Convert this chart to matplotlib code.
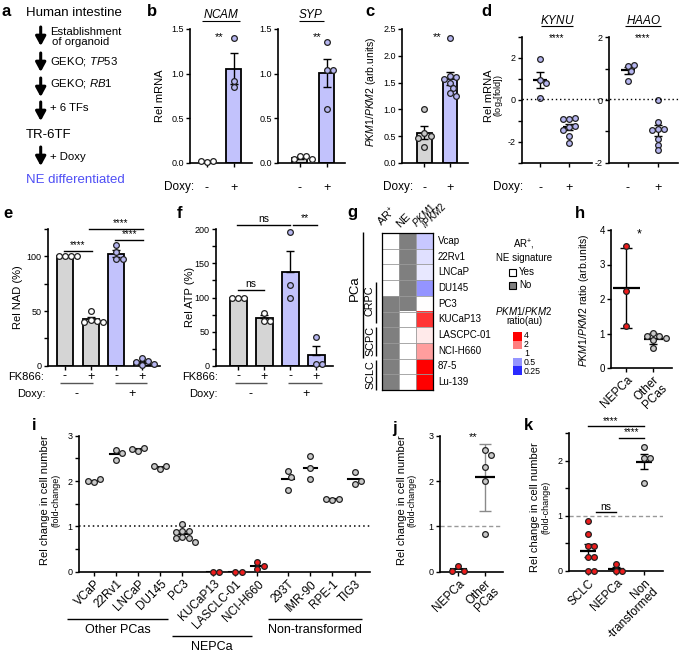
import matplotlib
matplotlib.use('Agg')
import matplotlib.pyplot as plt
import numpy as np
from matplotlib.colors import LinearSegmentedColormap
from matplotlib.patches import Rectangle

plt.rcParams['font.family'] = ['Liberation Sans', 'DejaVu Sans']
plt.rcParams['mathtext.fontset'] = 'custom'
plt.rcParams['mathtext.rm'] = 'Liberation Sans'
plt.rcParams['mathtext.it'] = 'Liberation Sans:italic'
plt.rcParams['mathtext.bf'] = 'Liberation Sans:bold'

# ---------------- data ----------------
doxy_labels = ['-', '+']
ncam_vals = [[0.01, 0.02, 0.02], [1.40, 0.92, 0.85]]
syp_vals = [[0.08, 0.08, 0.04, 0.04], [1.36, 1.04, 1.04, 0.60]]
pkm_vals = [[1.00, 0.56, 0.50, 0.47, 0.29],
            [2.33, 1.62, 1.60, 1.57, 1.50, 1.40, 1.30, 1.25]]
kynu_vals = [[1.94, 0.93, 0.80, 0.10],
             [-0.91, -0.86, -0.91, -1.31, -1.23, -1.44, -1.71, -2.08]]
haao_vals = [[1.10, 1.13, 0.92, 0.62],
             [0.00, -0.69, -0.92, -0.94, -0.96, -1.23, -1.42, -1.61]]
fk866_labels = ['-', '+', '-', '+']
nad_vals = [[100, 100, 100, 100], [50, 42, 41, 40, 40],
            [110, 104, 98, 98], [7, 4, 3, 2, 1]]
atp_vals = [[100, 100, 100], [78, 65, 65], [196, 118, 100], [42, 3, 3]]

g_lines = ['Vcap', '22Rv1', 'LNCaP', 'DU145', 'PC3', 'KUCaP13',
           'LASCPC-01', 'NCI-H660', '87-5', 'Lu-139']
g_ar_pos = [1, 1, 1, 1, 0, 0, 0, 0, 0, 0]
g_ne_sig = [0, 0, 0, 0, 0, 1, 1, 1, 1, 1]
g_pkm_ratio = [0.70, 0.82, 0.86, 0.50, 1.0, 3.0, 1.12, 1.70, 4.0, 4.0]
g_legend_ticks = [4, 2, 1, 0.5, 0.25]

h_labels = ['NEPCa', 'Other\nPCas']
h_vals = [[3.54, 2.22, 1.22], [1.01, 0.94, 0.92, 0.87, 0.80, 0.58]]

i_lines = ['VCaP', '22Rv1', 'LNCaP', 'DU145', 'PC3', 'KUCaP13', 'LASCLC-01',
           'NCI-H660', '293T', 'IMR-90', 'RPE-1', 'TIG3']
i_group = [0, 0, 0, 0, 0, 1, 1, 1, 2, 2, 2, 2]
i_vals = [[1.97, 2.04, 2.01], [2.68, 2.47, 2.62], [2.67, 2.72, 2.71],
          [2.27, 2.34, 2.34], [1.05, 0.90, 0.90, 0.88, 0.77, 0.75, 0.75, 0.65],
          [0.0, 0.0], [0.0, 0.0], [0.05, 0.22, 0.12],
          [2.22, 2.10, 1.80], [2.55, 2.28, 2.05], [1.58, 1.60, 1.60],
          [1.93, 2.20, 2.00]]

j_labels = ['NEPCa', 'Other\nPCas']
j_vals = [[0.12, 0.02, 0.02], [2.68, 2.58, 2.30, 2.00, 0.84]]

k_labels = ['SCLC', 'NEPCa', 'Non\n-transformed']
k_vals = [[0.90, 0.67, 0.45, 0.45, 0.25, 0.25, 0.0, 0.0],
          [0.0, 0.12, 0.0],
          [2.25, 2.04, 2.04, 1.60]]

# ---------------- style ----------------
GRAYBAR = '#d5d5d5'
LAVBAR = '#c2c2fc'
LAVPT = '#b6b6f0'
GRAYPT = '#c9c9c9'
REDPT = '#ee1c1c'
EDGE = '#222222'

W, H = 685, 655
fig = plt.figure(figsize=(W / 100, H / 100), dpi=100)


def add_ax(x0, y0, x1, y1):
    ax = fig.add_axes([x0 / W, 1 - y1 / H, (x1 - x0) / W, (y1 - y0) / H])
    for s in ('top', 'right'):
        ax.spines[s].set_visible(False)
    for s in ('left', 'bottom'):
        ax.spines[s].set_linewidth(1.2)
    ax.tick_params(direction='out', length=3, width=1, labelsize=6.5, pad=1.5)
    ax.patch.set_alpha(0)
    return ax


def swarm(ax, xc, vals, d=6.2):
    inv = ax.transData.inverted()
    placed = []
    xs = []
    xcp = ax.transData.transform((xc, 0))[0]
    for v in vals:
        yp = ax.transData.transform((xc, v))[1]
        cands = [0.0]
        for k in range(1, 40):
            cands += [k * d * 0.5, -k * d * 0.5]
        xp = xcp
        for c in cands:
            xp = xcp + c
            if all((xp - a) ** 2 + (yp - b) ** 2 >= (d * 0.95) ** 2 for a, b in placed):
                break
        placed.append((xp, yp))
        xs.append(inv.transform((xp, yp))[0])
    return xs


def points(ax, xc, vals, fc):
    xs = swarm(ax, xc, vals)
    ax.scatter(xs, vals, s=17, facecolor=fc, edgecolor=EDGE, linewidth=0.9,
               zorder=4, clip_on=False)


def sem(v):
    v = np.asarray(v, float)
    return np.std(v, ddof=1) / np.sqrt(len(v))


def bars(ax, groups, colors, ptcolors, width, up_only=False):
    for i, (vals, c, pc) in enumerate(zip(groups, colors, ptcolors)):
        m = np.mean(vals)
        e = sem(vals)
        ax.bar(i, m, width, color=c, edgecolor='black', linewidth=1.3, zorder=1)
        ax.errorbar(i, m, yerr=[[0 if up_only else e], [e]], color='black',
                    capsize=3, lw=1, capthick=1, zorder=2)
        points(ax, i, vals, pc)


def dots(ax, xc, vals, fc, meanw, sd=False, errcolor='black', capsize=3):
    m = np.mean(vals)
    e = np.std(vals, ddof=1) if sd else sem(vals)
    ax.errorbar(xc, m, yerr=e, color=errcolor, capsize=capsize, lw=1,
                capthick=1, zorder=2)
    ax.plot([xc - meanw / 2, xc + meanw / 2], [m, m], color='black', lw=1.6,
            zorder=3, solid_capstyle='butt')
    points(ax, xc, vals, fc)


# overlay in pixel coordinates
ov = fig.add_axes([0, 0, 1, 1], zorder=20)
ov.set_xlim(0, W)
ov.set_ylim(H, 0)
ov.axis('off')
ov.patch.set_visible(False)


def T(x, y, s, **kw):
    kw.setdefault('fontsize', 8)
    kw.setdefault('va', 'center')
    ov.text(x, y, s, **kw)


def L(xs, ys, **kw):
    kw.setdefault('color', 'black')
    kw.setdefault('lw', 1)
    ov.plot(xs, ys, solid_capstyle='butt', **kw)


def letter(x, y, s):
    T(x, y, s, fontsize=12, fontweight='bold', ha='left')


# ---------------- panel a ----------------
letter(2, 11, 'a')
T(26, 13, 'Human intestine', fontsize=9.5)
T(50, 32, 'Establishment', fontsize=8.2)
T(52, 42, 'of organoid', fontsize=8.2)
T(50, 62, r'GEKO; $\mathit{TP53}$', fontsize=8.2)
T(50, 84, r'GEKO; $\mathit{RB1}$', fontsize=8.2)
T(50, 108, '+ 6 TFs', fontsize=8.2)
T(26, 135, 'TR-6TF', fontsize=9.5)
T(50, 157, '+ Doxy', fontsize=8.2)
T(26, 180, 'NE differentiated', fontsize=9.5, color='#4f4ff5')
for y0, y1 in [(27, 46), (53, 72), (78, 97), (102, 121), (147, 166)]:
    ov.annotate('', xy=(40.7, y1), xytext=(40.7, y0),
                arrowprops=dict(arrowstyle='-|>,head_width=0.3,head_length=0.55',
                                lw=2.2, color='black', shrinkA=0, shrinkB=0,
                                mutation_scale=10))

# ---------------- panel b ----------------
letter(147, 11, 'b')
axb1 = add_ax(190, 29, 252, 163)
axb1.set_xlim(-0.63, 1.67)
axb1.set_ylim(0, 1.5)
bars(axb1, ncam_vals, [GRAYBAR, LAVBAR], ['white', LAVPT], 0.56)
axb2 = add_ax(278, 29, 345, 163)
axb2.set_xlim(-0.81, 1.67)
axb2.set_ylim(0, 1.5)
bars(axb2, syp_vals, [GRAYBAR, LAVBAR], ['white', LAVPT], 0.56)
for ax in (axb1, axb2):
    ax.set_yticks([0, 0.5, 1.0, 1.5], ['0.0', '0.5', '1.0', '1.5'])
    ax.set_xticks([0, 1], doxy_labels)
    ax.tick_params(axis='x', labelsize=9, pad=11)
T(160, 96, 'Rel mRNA', rotation=90, ha='center')
T(221, 15, r'$\mathit{NCAM}$', ha='center', fontsize=8.5)
L([202, 240], [21, 21], lw=0.8)
T(311, 15, r'$\mathit{SYP}$', ha='center', fontsize=8.5)
L([299, 324], [21, 21], lw=0.8)
T(219, 37, '**', ha='center', fontsize=8)
T(317, 37, '**', ha='center', fontsize=8)
T(194, 187, 'Doxy:', ha='right', fontsize=8.5)

# ---------------- panel c ----------------
letter(365, 11, 'c')
axc = add_ax(402, 29, 468, 163)
axc.set_xlim(-0.87, 1.7)
axc.set_ylim(0, 2.5)
bars(axc, pkm_vals, [GRAYBAR, LAVBAR], [GRAYPT, LAVPT], 0.58)
axc.set_yticks([0, 0.5, 1.0, 1.5, 2.0, 2.5], ['0.0', '0.5', '1.0', '1.5', '2.0', '2.5'])
axc.set_xticks([0, 1], doxy_labels)
axc.tick_params(axis='x', labelsize=9, pad=11)
T(371, 92, r'$\mathit{PKM1/PKM2}$ (arb.units)', rotation=90, ha='center', fontsize=7.5)
T(437, 37, '**', ha='center', fontsize=8)
T(413, 187, 'Doxy:', ha='right', fontsize=8.5)

# ---------------- panel d ----------------
letter(481, 11, 'd')
axd1 = add_ax(522, 36.7, 592, 162.7)
axd1.set_xlim(-0.62, 1.79)
axd1.set_ylim(-3, 3)
axd1.set_yticks([-3, -2, -1, 0, 1, 2, 3], ['', '-2', '', '0', '', '2', ''])
axd2 = add_ax(609, 37.3, 678, 162.7)
axd2.set_xlim(-0.63, 1.67)
axd2.set_ylim(-2, 2)
axd2.set_yticks([-2, -1, 0, 1, 2], ['-2', '', '0', '', '2'])
for ax, vals in ((axd1, kynu_vals), (axd2, haao_vals)):
    ax.set_xticks([0, 1], doxy_labels)
    ax.tick_params(axis='x', labelsize=9, pad=11)
    for i, v in enumerate(vals):
        dots(ax, i, v, LAVPT, 0.45)
L([522, 678], [99.3, 99.3], lw=1, ls=(0, (1, 2)))
T(557, 20, r'$\mathit{KYNU}$', ha='center', fontsize=8.5)
L([541, 573], [26, 26], lw=0.8)
T(643, 20, r'$\mathit{HAAO}$', ha='center', fontsize=8.5)
L([625, 661], [26, 26], lw=0.8)
T(557, 38, '****', ha='center', fontsize=7)
T(643, 38, '****', ha='center', fontsize=7)
T(489, 96, 'Rel mRNA', rotation=90, ha='center', fontsize=8)
T(499, 96, r'(log$_2$[fold])', rotation=90, ha='center', fontsize=6.5)
T(523, 187, 'Doxy:', ha='right', fontsize=8.5)

# ---------------- panel e ----------------
letter(3, 213, 'e')
axe = add_ax(48, 229, 160, 365.7)
axe.set_xlim(-0.66, 3.7)
axe.set_ylim(0, 125)
bars(axe, nad_vals, [GRAYBAR, GRAYBAR, LAVBAR, LAVBAR],
     ['white', 'white', LAVPT, LAVPT], 0.62)
axe.set_yticks([0, 25, 50, 75, 100, 125], ['0', '', '50', '', '100', ''])
axe.set_xticks([0, 1, 2, 3], fk866_labels)
axe.tick_params(axis='x', labelsize=9, pad=0.5)
for (a, b, y, s) in [(0, 1, 105, '****'), (2, 3, 115, '****'), (1, 3, 125, '****')]:
    axe.plot([a - 0.05, b + 0.05], [y, y], color='black', lw=1, clip_on=False)
    axe.text((a + b) / 2 + (0.15 if (a, b) == (1, 3) else 0), y + 1, s,
             ha='center', va='bottom', fontsize=7, clip_on=False)
T(18, 297, 'Rel NAD (%)', rotation=90, ha='center', fontsize=8)
T(44, 377, 'FK866:', ha='right', fontsize=8)
T(46, 394, 'Doxy:', ha='right', fontsize=8)
L([60, 93], [383, 383], color='#555555', lw=1)
L([115, 147], [383, 383], color='#555555', lw=1)
T(77, 394, '-', ha='center', fontsize=9)
T(132, 394, '+', ha='center', fontsize=9)

# ---------------- panel f ----------------
letter(177, 213, 'f')
axf = add_ax(216, 229.3, 333, 365.7)
axf.set_xlim(-0.85, 3.65)
axf.set_ylim(0, 200)
bars(axf, atp_vals, [GRAYBAR, GRAYBAR, LAVBAR, LAVBAR],
     ['white', 'white', LAVPT, LAVPT], 0.65, up_only=True)
axf.set_yticks(np.arange(0, 201, 25), ['0', '', '50', '', '100', '', '150', '', '200'])
axf.set_xticks([0, 1, 2, 3], fk866_labels)
axf.tick_params(axis='x', labelsize=9, pad=0.5)
for (a, b, y, s) in [(0, 1, 111, 'ns'), (-0.05, 2.0, 207, 'ns'), (2.1, 3.05, 207, '**')]:
    axf.plot([a, b], [y, y], color='black', lw=1, clip_on=False)
    axf.text((a + b) / 2, y + 1.5, s, ha='center', va='bottom', fontsize=7.5,
             clip_on=False)
T(190, 297, 'Rel ATP (%)', rotation=90, ha='center', fontsize=8)
T(218, 377, 'FK866:', ha='right', fontsize=8)
T(218, 394, 'Doxy:', ha='right', fontsize=8)
L([235, 267], [383, 383], color='#555555', lw=1)
L([288, 322], [383, 383], color='#555555', lw=1)
T(251, 394, '-', ha='center', fontsize=9)
T(306, 394, '+', ha='center', fontsize=9)

# ---------------- panel g ----------------
letter(347, 213, 'g')
axg = fig.add_axes([382 / W, 1 - 390 / H, (433 - 382) / W, (390 - 233) / H])
cmap = LinearSegmentedColormap.from_list('pkm', ['#2a2aff', '#ffffff', '#ff0000'])
n = len(g_lines)
img = np.ones((n, 3, 3))
for r in range(n):
    img[r, 0] = (1, 1, 1) if g_ar_pos[r] else (0.5, 0.5, 0.5)
    img[r, 1] = (1, 1, 1) if g_ne_sig[r] else (0.5, 0.5, 0.5)
    img[r, 2] = cmap((np.log2(g_pkm_ratio[r]) + 2) / 4)[:3]
axg.imshow(img, aspect='auto', extent=(0, 3, n, 0), interpolation='nearest')
for r in range(1, n):
    axg.axhline(r, color='#9a9a9a', lw=0.6)
for c in (1, 2):
    axg.axvline(c, color='#9a9a9a', lw=0.6)
axg.set_xticks([])
axg.set_yticks([])
for s in axg.spines.values():
    s.set_linewidth(0.9)
rowh = (390 - 233) / n
for r, name in enumerate(g_lines):
    T(438, 233 + (r + 0.5) * rowh, name, ha='left', fontsize=7)
T(384, 229, r'AR$^{+}$', rotation=45, ha='left', va='bottom', fontsize=8,
  rotation_mode='anchor')
T(402, 229, 'NE', rotation=45, ha='left', va='bottom', fontsize=8,
  rotation_mode='anchor')
T(418, 229, r'$\mathit{PKM1}$', rotation=45, ha='left', va='bottom', fontsize=7,
  rotation_mode='anchor')
T(427, 230, r'$\mathit{/PKM2}$', rotation=45, ha='left', va='bottom', fontsize=7,
  rotation_mode='anchor')
L([363, 363], [232, 358], lw=1)
T(355, 288, 'PCa', rotation=90, ha='center', fontsize=9.5)
L([376.5, 376.5], [282, 323], lw=1)
T(370, 301, 'CRPC', rotation=90, ha='center', fontsize=7.8)
L([376.5, 376.5], [327, 356], lw=1)
T(370, 341, 'SCPC', rotation=90, ha='center', fontsize=7.8)
L([376.5, 376.5], [360, 390], lw=1)
T(370, 375, 'SCLC', rotation=90, ha='center', fontsize=7.8)
# legend
T(524, 245, r'AR$^{+}$,', ha='center', fontsize=7)
T(524, 258, 'NE signature', ha='center', fontsize=7)
ov.add_patch(Rectangle((509, 268.5), 7, 7, facecolor='white', edgecolor='black', lw=0.8))
ov.add_patch(Rectangle((509, 281.5), 7, 7, facecolor='#808080', edgecolor='black', lw=0.8))
T(519, 272, 'Yes', ha='left', fontsize=7)
T(519, 285, 'No', ha='left', fontsize=7)
T(524, 311, r'$\mathit{PKM1/PKM2}$', ha='center', fontsize=7)
T(524, 321, 'ratio(au)', ha='center', fontsize=7)
blk = (375 - 332) / len(g_legend_ticks)
for q, tv in enumerate(g_legend_ticks):
    ov.add_patch(Rectangle((513, 332 + q * blk), 9, blk,
                           facecolor=cmap((np.log2(tv) + 2) / 4), edgecolor='none'))
    T(524, 335 + q * 9.2, f'{tv:g}', ha='left', fontsize=6.3)

# ---------------- panel h ----------------
letter(575, 213, 'h')
axh = add_ax(611, 230, 672, 368)
axh.set_xlim(-0.56, 1.7)
axh.set_ylim(0, 4)
axh.set_yticks([0, 1, 2, 3, 4])
axh.tick_params(axis='y', labelsize=7)
dots(axh, 0, h_vals[0], REDPT, 1.0, sd=True, capsize=4)
dots(axh, 1, h_vals[1], GRAYPT, 0.7, sd=True, capsize=3)
axh.set_xticks([0, 1])
axh.set_xticklabels(h_labels, rotation=45, ha='right', rotation_mode='anchor',
                    fontsize=8.5, linespacing=0.9)
T(639, 234, '*', ha='center', fontsize=9)
T(584, 300, r'$\mathit{PKM1/PKM2}$ ratio (arb.units)', rotation=90, ha='center',
  fontsize=7.5)

# ---------------- panel i ----------------
letter(32, 426, 'i')
axi = add_ax(79, 435.7, 370, 571.7)
i_pos = []
xp = 0.0
for idx, g in enumerate(i_group):
    if idx > 0 and g != i_group[idx - 1]:
        xp += 0.4
    i_pos.append(xp)
    xp += 1
axi.set_xlim(-0.68, 12.5)
axi.set_ylim(0, 3)
axi.axhline(1, color='black', lw=1.1, ls=(0, (1, 2)), zorder=1)
for p, v, g in zip(i_pos, i_vals, i_group):
    m = np.mean(v)
    axi.plot([p - 0.28, p + 0.28], [m, m], color='black', lw=1.5, zorder=2)
    points(axi, p, v, REDPT if g == 1 else GRAYPT)
axi.set_yticks(np.arange(0, 3.01, 0.5), ['0', '', '1', '', '2', '', '3'])
axi.set_xticks(i_pos)
axi.set_xticklabels(i_lines, rotation=45, ha='right', rotation_mode='anchor',
                    fontsize=8.5)
T(45, 500, 'Rel change in cell number', rotation=90, ha='center', fontsize=8)
T(56, 500, '(fold-change)', rotation=90, ha='center', fontsize=6.5)
L([67, 168], [619, 619])
T(118, 630, 'Other PCas', ha='center', fontsize=9)
L([172, 252], [636, 636])
T(212, 647, 'NEPCa', ha='center', fontsize=9)
L([268, 362], [619, 619])
T(315, 630, 'Non-transformed', ha='center', fontsize=9)

# ---------------- panel j ----------------
letter(392, 428, 'j')
axj = add_ax(440, 435.7, 503, 571.7)
axj.set_xlim(-0.67, 1.67)
axj.set_ylim(0, 3)
axj.axhline(1, color='#999999', lw=1, ls=(0, (3, 2)), zorder=1)
m0 = np.mean(j_vals[0])
axj.plot([-0.28, 0.28], [m0, m0], color='black', lw=1.5, zorder=2)
points(axj, 0, j_vals[0], REDPT)
dots(axj, 1, j_vals[1], GRAYPT, 0.75, sd=True, errcolor='#8a8a8a', capsize=4)
axj.set_yticks([0, 1, 2, 3])
axj.set_xticks([0, 1])
axj.set_xticklabels(j_labels, rotation=45, ha='right', rotation_mode='anchor',
                    fontsize=8.5, linespacing=0.9)
T(473, 437, '**', ha='center', fontsize=8)
T(402, 500, 'Rel change in cell number', rotation=90, ha='center', fontsize=8)
T(412, 500, '(fold-change)', rotation=90, ha='center', fontsize=6.5)

# ---------------- panel k ----------------
letter(524, 426, 'k')
axk = add_ax(569, 433, 663, 571)
axk.set_xlim(-0.68, 2.68)
axk.set_ylim(0, 2.5)
axk.axhline(1, color='#999999', lw=1, ls=(0, (3, 2)), zorder=1)
dots(axk, 0, k_vals[0], REDPT, 0.6)
dots(axk, 1, k_vals[1], REDPT, 0.6)
dots(axk, 2, k_vals[2], GRAYPT, 0.6)
axk.set_yticks(np.arange(0, 2.51, 0.5), ['0', '', '1', '', '2', ''])
axk.set_xticks([0, 1, 2])
axk.set_xticklabels(k_labels, rotation=45, ha='right', rotation_mode='anchor',
                    fontsize=8.5, linespacing=0.9)
for (a, b, y, s) in [(0, 2, 2.62, '****'), (1.1, 2, 2.41, '****'), (0.3, 1.0, 1.06, 'ns')]:
    axk.plot([a, b], [y, y], color='black', lw=1, clip_on=False)
    axk.text((a + b) / 2 - (0.2 if s == '****' and a == 0 else 0), y + 0.01, s,
             ha='center', va='bottom', fontsize=7.5 if s == 'ns' else 7,
             clip_on=False)
T(535, 507, 'Rel change in cell number', rotation=90, ha='center', fontsize=8)
T(546, 507, '(fold-change)', rotation=90, ha='center', fontsize=6.5)

fig.savefig('out.png', dpi=100)
